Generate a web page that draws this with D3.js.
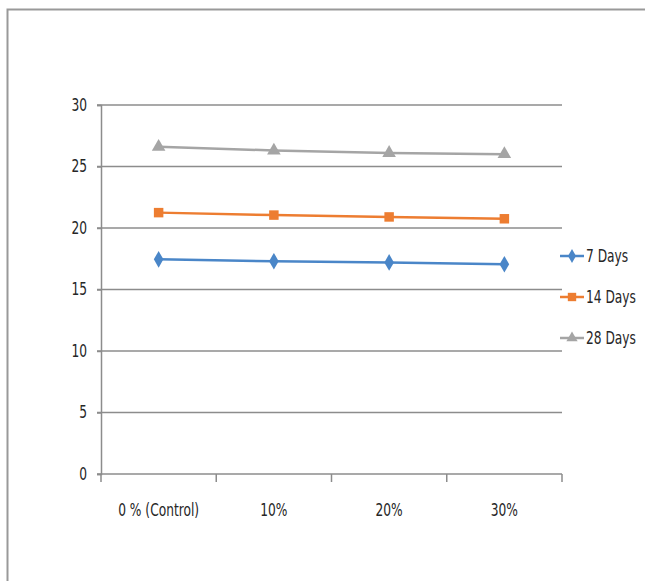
<!DOCTYPE html>
<html>
<head>
<meta charset="utf-8">
<script src="https://cdn.jsdelivr.net/npm/d3@7"></script>
<style>
  body { margin: 0; background: #fff; }
  text { font-family: "DejaVu Sans Condensed", "DejaVu Sans", sans-serif; font-size: 17px; fill: #262626; }
</style>
</head>
<body>
<script>
// chart data
var categories = ["0 % (Control)", "10%", "20%", "30%"]
var seriesNames = ["7 Days", "14 Days", "28 Days"]
var days7 = [17.45, 17.3, 17.2, 17.05]
var days14 = [21.25, 21.05, 20.9, 20.75]
var days28 = [26.6, 26.3, 26.1, 26.0]
var yTicks = [0, 5, 10, 15, 20, 25, 30]

var colors = ["#4a86c8", "#ed7d31", "#a5a5a5"]
var symbols = [d3.symbolDiamond, d3.symbolSquare, d3.symbolTriangle]

var outerWidth = 645, outerHeight = 581
var plot = {left: 101, right: 562, top: 105, bottom: 474}

var svg = d3.select("body").append("svg")
  .attr("width", outerWidth)
  .attr("height", outerHeight)

// frame of the chart area
svg.append("path")
  .attr("d", "M7.5," + outerHeight + "V9.5H" + outerWidth)
  .attr("fill", "none")
  .attr("stroke", "#999")
  .attr("stroke-width", 2)

var xScale = d3.scaleBand()
  .domain(categories)
  .range([plot.left, plot.right])

var yScale = d3.scaleLinear()
  .domain([0, 30])
  .range([plot.bottom, plot.top])

// horizontal gridlines
svg.append("g")
  .selectAll("line")
  .data(yTicks.filter(function(d) { return d > 0 }))
  .enter()
  .append("line")
  .attr("x1", plot.left - 4)
  .attr("x2", plot.right)
  .attr("y1", function(d) { return yScale(d) })
  .attr("y2", function(d) { return yScale(d) })
  .attr("stroke", "#8c8c8c")
  .attr("stroke-width", 1.5)

// y axis
var yAxis = d3.axisLeft(yScale).tickValues(yTicks).tickSize(4).tickPadding(10)
var gy = svg.append("g")
  .attr("transform", "translate(" + plot.left + ",0)")
  .call(yAxis)
gy.select(".domain").attr("stroke", "#8c8c8c").attr("stroke-width", 1.5)
gy.selectAll(".tick line").attr("stroke", "#8c8c8c").attr("stroke-width", 1.5)
gy.selectAll("text").attr("fill", "#262626")
gy.attr("font-family", null).attr("font-size", null)

// x axis, ticks between categories
var gx = svg.append("g")
  .attr("transform", "translate(0," + plot.bottom + ")")
gx.append("line")
  .attr("x1", plot.left - 4).attr("x2", plot.right)
  .attr("stroke", "#8c8c8c").attr("stroke-width", 1.5)
gx.selectAll(".tk")
  .data(categories.concat(["end"]))
  .enter()
  .append("line")
  .attr("class", "tk")
  .attr("x1", function(d, i) { return plot.left + i * xScale.bandwidth() })
  .attr("x2", function(d, i) { return plot.left + i * xScale.bandwidth() })
  .attr("y1", 0).attr("y2", 8)
  .attr("stroke", "#8c8c8c").attr("stroke-width", 1.5)
gx.selectAll(".lbl")
  .data(categories)
  .enter()
  .append("text")
  .attr("class", "lbl")
  .attr("x", function(d) { return xScale(d) + xScale.bandwidth() / 2 })
  .attr("y", 42)
  .attr("text-anchor", "middle")
  .text(function(d) { return d })

var allSeries = [days7, days14, days28]

var line = d3.line()
  .x(function(d, i) { return xScale(categories[i]) + xScale.bandwidth() / 2 })
  .y(function(d) { return yScale(d) })

allSeries.forEach(function(values, s) {
  svg.append("path")
    .datum(values)
    .attr("d", line)
    .attr("fill", "none")
    .attr("stroke", colors[s])
    .attr("stroke-width", 2.5)

  svg.selectAll(".m" + s)
    .data(values)
    .enter()
    .append("path")
    .attr("class", "m" + s)
    .attr("d", d3.symbol().type(symbols[s]).size(s == 1 ? 90 : 80))
    .attr("transform", function(d, i) {
      return "translate(" + (xScale(categories[i]) + xScale.bandwidth() / 2) + "," + yScale(d) + ")"
    })
    .attr("fill", colors[s])
})

// legend
var legend = svg.append("g")
  .selectAll("g")
  .data(seriesNames)
  .enter()
  .append("g")
  .attr("transform", function(d, i) { return "translate(560," + (256 + i * 41) + ")" })

legend.append("line")
  .attr("x1", 0).attr("x2", 24)
  .attr("stroke", function(d, i) { return colors[i] })
  .attr("stroke-width", 2.5)
legend.append("path")
  .attr("d", function(d, i) { return d3.symbol().type(symbols[i]).size(i == 1 ? 70 : 55)() })
  .attr("transform", "translate(12,0)")
  .attr("fill", function(d, i) { return colors[i] })
legend.append("text")
  .attr("x", 26)
  .attr("dy", "0.35em")
  .text(function(d) { return d })

// squeeze the text sideways so it looks like the narrow font of the original
svg.selectAll("text").each(function() {
  var t = d3.select(this)
  var x = +t.attr("x") || 0, y = +t.attr("y") || 0
  t.attr("x", 0).attr("y", 0)
    .attr("transform", "translate(" + x + "," + y + ") scale(0.8,1)")
})
</script>
</body>
</html>
